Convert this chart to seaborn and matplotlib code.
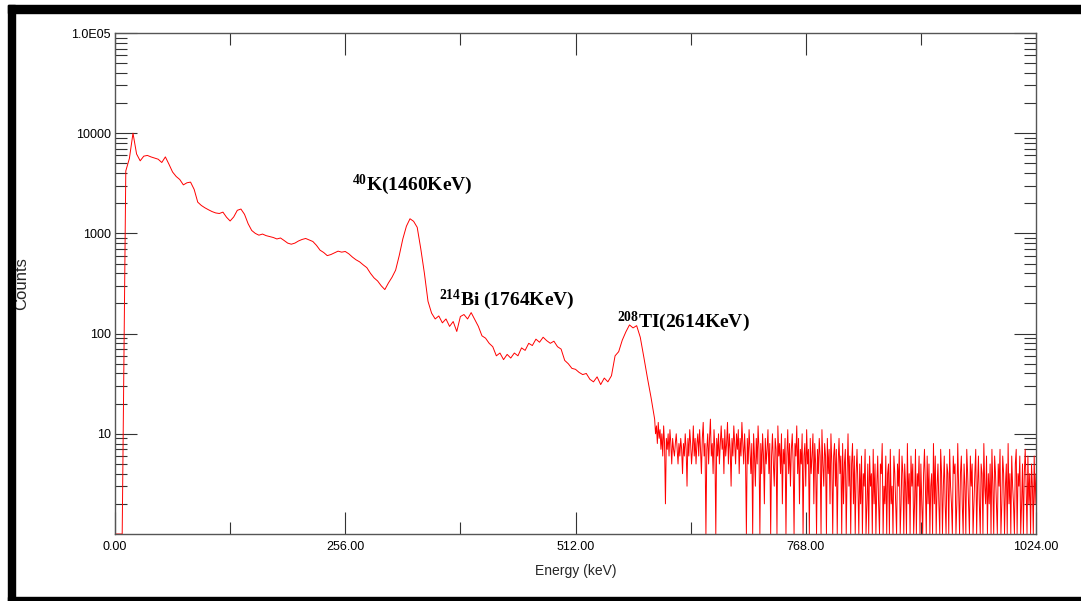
import numpy as np
import pandas as pd
import matplotlib
matplotlib.use("Agg")
import matplotlib.pyplot as plt
import seaborn as sns
from matplotlib.ticker import FixedLocator, FixedFormatter, NullFormatter, LogLocator
from matplotlib.patches import Rectangle

# ---------------- data ----------------
# counts for channels 0..596 (step 4)
counts_low = [
    1, 1, 1, 4200, 5600, 10000, 6200, 5300, 5900, 6000, 5800, 5650, 5500, 5100, 5800, 4900,
    4100, 3700, 3450, 3050, 3200, 3250, 2750, 2050, 1900, 1800, 1720, 1650, 1600, 1580, 1630, 1450,
    1330, 1460, 1700, 1750, 1550, 1250, 1070, 1000, 960, 985, 950, 930, 910, 880, 900, 850,
    800, 780, 800, 840, 870, 890, 860, 830, 760, 680, 645, 600, 615, 640, 665, 650,
    660, 625, 580, 545, 520, 485, 455, 400, 360, 335, 300, 275, 320, 365, 430, 600,
    880, 1180, 1400, 1320, 1150, 700, 400, 210, 160, 140, 150, 128, 140, 118, 132, 105,
    148, 155, 140, 162, 138, 118, 95, 90, 80, 74, 60, 64, 55, 62, 57, 64,
    60, 72, 68, 80, 76, 88, 82, 92, 85, 80, 84, 74, 70, 54, 50, 45,
    44, 41, 39, 40, 35, 33, 37, 31, 36, 33, 38, 60, 66, 86, 104, 122,
    114, 120, 92, 58, 36, 23,
]
# counts for channels 600..700 (step 1)
counts_mid = [
    14, 10, 12, 8, 13, 9, 11, 7, 10, 6, 12, 8, 2, 9, 7, 10, 6, 11, 8, 5, 9, 7, 6, 8, 10,
    7, 5, 8, 6, 9, 7, 4, 8, 6, 10, 7, 3, 9, 6, 11, 8, 5, 7, 12, 6, 9, 5, 8, 10, 6,
    11, 7, 4, 9, 13, 6, 8, 1, 7, 10, 5, 9, 14, 6, 8, 4, 11, 7, 1, 9, 6, 10, 5, 8, 12,
    7, 9, 4, 11, 6, 8, 13, 5, 10, 7, 3, 9, 6, 12, 8, 5, 10, 7, 11, 4, 9, 6, 13, 8, 5, 10,
]
# counts for channels 701..820 (step 1)
counts_high = [
    6, 1, 9, 5, 11, 7, 4, 8, 1, 10, 6, 3, 9, 5, 12, 7, 1, 8, 4, 10, 6, 2, 9, 5, 7,
    11, 4, 8, 1, 6, 10, 5, 3, 9, 7, 1, 12, 6, 8, 4, 10, 2, 7, 5, 9, 1, 6, 11, 4, 8,
    3, 7, 10, 5, 1, 8, 6, 12, 4, 9, 2, 7, 5, 10, 1, 6, 8, 3, 11, 5, 7, 1, 9, 4, 6,
    10, 2, 8, 5, 1, 7, 4, 9, 6, 1, 11, 5, 3, 8, 6, 1, 9, 4, 7, 2, 10, 5, 1, 6, 8,
    3, 7, 1, 5, 9, 4, 6, 1, 8, 2, 5, 7, 1, 4, 10, 3, 6, 1, 5, 8,
]
# counts for channels 821..1024 (step 1)
counts_tail = [
    2, 6, 1, 4, 7, 3, 1, 5, 2, 6, 1, 4, 3, 7, 1, 2, 5, 1, 6, 3, 4, 1, 7, 2, 5,
    1, 3, 6, 2, 1, 5, 4, 8, 1, 3, 2, 6, 1, 4, 5, 1, 7, 2, 3, 1, 6, 4, 2, 1, 5,
    3, 7, 1, 2, 6, 4, 1, 5, 3, 1, 8, 2, 4, 1, 6, 3, 5, 1, 2, 7, 1, 4, 3, 6, 1,
    5, 2, 1, 4, 7, 3, 1, 6, 2, 5, 1, 3, 4, 1, 8, 2, 6, 1, 3, 5, 2, 1, 7, 4, 1,
    3, 6, 2, 1, 5, 4, 1, 7, 3, 2, 1, 6, 4, 5, 1, 2, 8, 3, 1, 4, 6, 2, 1, 5, 3,
    1, 7, 4, 2, 1, 6, 3, 5, 1, 2, 4, 7, 1, 3, 6, 2, 1, 5, 4, 1, 8, 3, 2, 6, 1,
    4, 2, 5, 1, 7, 3, 1, 6, 4, 2, 1, 5, 3, 7, 1, 2, 6, 4, 1, 3, 5, 1, 8, 2, 4,
    1, 6, 3, 2, 1, 5, 7, 1, 4, 3, 6, 1, 2, 5, 1, 4, 7, 3, 1, 6, 2, 4, 1, 5, 3,
    1, 6, 2, 4,
]
channels_low = np.arange(0, 600, 4)
channels_rest = np.arange(600, 1025, 1)

x_ticks = [0, 256, 512, 768, 1024]
x_tick_labels = ["0.00", "256.00", "512.00", "768.00", "1024.00"]
x_minor = [128, 384, 640, 896]
y_ticks = [10, 100, 1000, 10000, 100000]
y_tick_labels = ["10", "100", "1000", "10000", "1.0E05"]

annot_labels = [r"$^{40}$K(1460KeV)", r"$^{214}$Bi (1764KeV)", r"$^{208}$TI(2614KeV)"]
annot_x = [264, 360, 558]
annot_y = [2690, 195, 115]

# ---------------- build ----------------
channels = np.concatenate([channels_low, channels_rest])
counts = np.array(counts_low + counts_mid + counts_high + counts_tail, dtype=float)
assert len(channels) == len(counts)
df = pd.DataFrame({"Energy": channels, "Counts": counts})

sns.set_style("white")
plt.rcParams["font.family"] = ["Liberation Sans", "DejaVu Sans"]
plt.rcParams["mathtext.fontset"] = "custom"
plt.rcParams["mathtext.rm"] = "Liberation Serif:bold"
plt.rcParams["mathtext.it"] = "Liberation Serif:bold"
plt.rcParams["mathtext.bf"] = "Liberation Serif:bold"

W, H = 1081, 601
fig = plt.figure(figsize=(W / 100, H / 100), dpi=100, facecolor="white")
ax = fig.add_axes([115 / W, 1 - 534 / H, (1036 - 115) / W, (534 - 33) / H])

sns.lineplot(data=df, x="Energy", y="Counts", color="#ff0000", linewidth=0.7,
             estimator=None, ax=ax)

ax.set_yscale("log")
ax.set_ylim(1, 1e5)
ax.set_xlim(0, 1024)

ax.xaxis.set_major_locator(FixedLocator(x_ticks))
ax.xaxis.set_major_formatter(FixedFormatter(x_tick_labels))
ax.xaxis.set_minor_locator(FixedLocator(x_minor))
ax.xaxis.set_minor_formatter(NullFormatter())
ax.yaxis.set_major_locator(FixedLocator(y_ticks))
ax.yaxis.set_major_formatter(FixedFormatter(y_tick_labels))
ax.yaxis.set_minor_locator(LogLocator(base=10, subs=np.arange(2, 10), numticks=20))
ax.yaxis.set_minor_formatter(NullFormatter())

ax.tick_params(which="both", direction="in", left=True, right=True, top=True, bottom=True,
               color="#333333", width=0.8, labelsize=9, labelcolor="black")
ax.tick_params(which="major", length=16, pad=3)
ax.tick_params(which="minor", length=8.5)
ax.tick_params(axis="x", which="major", pad=5)

for s in ax.spines.values():
    s.set_visible(True)
    s.set_color("#555555")
    s.set_linewidth(1.0)

ax.set_xlabel("Energy (keV)", fontsize=10)
ax.set_ylabel("Counts", fontsize=12)
ax.yaxis.label.set_verticalalignment("center")
ax.xaxis.set_label_coords(0.5, -0.06)
ax.yaxis.set_label_coords(-0.101, 0.5)
ax.grid(False)

for lab, xx, yy in zip(annot_labels, annot_x, annot_y):
    ax.text(xx, yy, lab, fontsize=14, fontweight="bold", family="Liberation Serif",
            ha="left", va="baseline", color="black")

# figure frame
fig.add_artist(Rectangle((8 / W, 0), 7 / W, 1 - 5 / H, transform=fig.transFigure,
                         color="black", zorder=10))
fig.add_artist(Rectangle((8 / W, 1 - 13 / H), 1 - 8 / W, 8 / H, transform=fig.transFigure,
                         color="black", zorder=10))
fig.add_artist(Rectangle((8 / W, 0), 1 - 8 / W, 4 / H, transform=fig.transFigure,
                         color="black", zorder=10))

fig.savefig("out.png", dpi=100, facecolor="white")
